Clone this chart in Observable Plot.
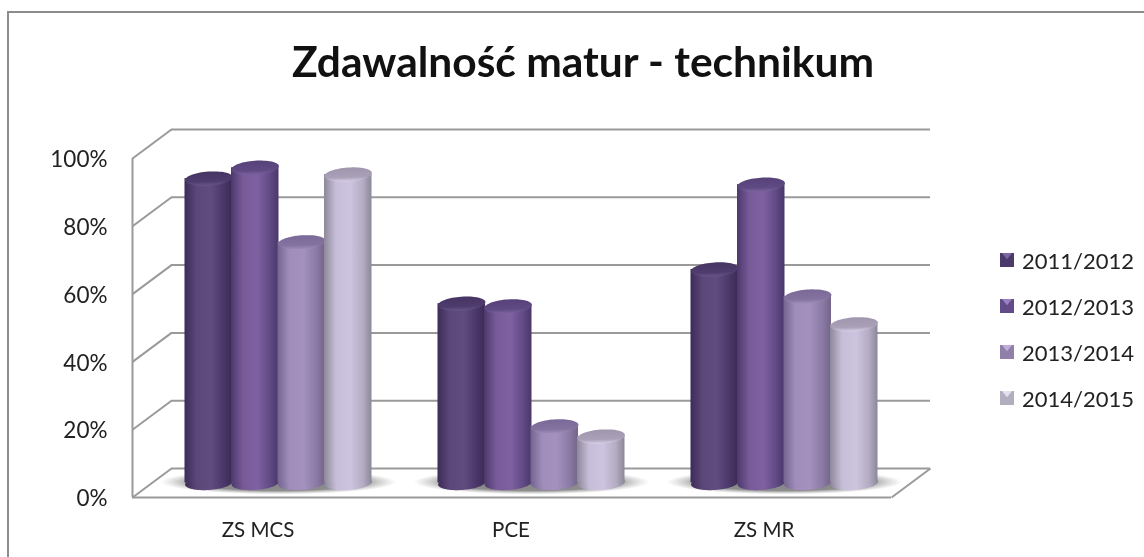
<!DOCTYPE html>
<html lang="pl">
<head>
<meta charset="utf-8">
<script src="https://cdn.jsdelivr.net/npm/d3@7"></script>
<script src="https://cdn.jsdelivr.net/npm/@observablehq/plot@0.6"></script>
<style>
  html, body { margin: 0; padding: 0; background: #fff; }
  #chart { position: relative; width: 1144px; height: 557px; overflow: hidden; font-family: Lato, sans-serif; color: #222; filter: blur(0.4px); }
  #border { position: absolute; left: 7px; top: 11px; right: -4px; bottom: -4px; border: 2px solid #8c8c8c; }
  #title { position: absolute; left: 0; right: 0; top: 37px; margin: 0; padding-left: 22px; text-align: center; font: 700 42.5px/48px Lato, sans-serif; color: #111; }
  #legend { position: absolute; left: 1000px; top: 237px; }
  .item { display: flex; align-items: center; height: 46px; font-size: 22px; white-space: nowrap; }
  .sw { position: relative; width: 14px; height: 14px; margin-right: 8px; }
  .sw i { position: absolute; inset: 0; clip-path: polygon(14% 0, 86% 0, 50% 45%); }
  svg { position: absolute; left: 0; top: 0; }
</style>
</head>
<body>
<div id="chart">
  <div id="border"></div>
  <h1 id="title">Zdawalność matur - technikum</h1>
  <div id="legend"></div>
</div>
<script>
const categories = ["ZS MCS", "PCE", "ZS MR"];
const seasons = ["2011/2012", "2012/2013", "2013/2014", "2014/2015"];
const v2011 = [89.8, 52.9, 63];
const v2012 = [93, 52.1, 88];
const v2013 = [71, 16.7, 55];
const v2014 = [91, 13.7, 46.8];
const seriesValues = [v2011, v2012, v2013, v2014];
const yTicks = [0, 20, 40, 60, 80, 100];

const sideColors = [
  ["#3c2b57", "#5c4779", "#614c80", "#4a3768", "#3b2a55"],
  ["#4c386c", "#775a98", "#7f61a2", "#614a85", "#4b3769"],
  ["#75648f", "#a08dbb", "#a491be", "#8b7aa5", "#736489"],
  ["#8d8899", "#c6bdd9", "#cdc4df", "#b3acc3", "#8b8798"]
];
const topColors = [
  ["#463462", "#4f3c6e", "#6a5689"],
  ["#574178", "#604a84", "#7c64a0"],
  ["#7a6896", "#8472a0", "#a18fbb"],
  ["#9f96ae", "#aaa1b9", "#d8d1e6"]
];
const swatchColors = [
  ["#4d3a6c", "#7e68a0"],
  ["#614b88", "#9b80c4"],
  ["#8f7fa9", "#bfaed8"],
  ["#b3adc0", "#e4dfee"]
];

// The box depth, expressed in the data units of the x and y scales.
const depthX = 39 / 253;
const depthY = 29 / 3.39;
const step = 46.5 / 253;
const half = 23.75 / 253;

function ellipseSymbol(aspect, tiltDeg) {
  const t = tiltDeg * Math.PI / 180;
  return {
    draw(ctx, size) {
      const rx = Math.sqrt(size / Math.PI), ry = rx * aspect;
      for (let i = 0; i <= 64; i++) {
        const a = (i / 64) * 2 * Math.PI;
        const ex = rx * Math.cos(a), ey = ry * Math.sin(a);
        const px = ex * Math.cos(t) - ey * Math.sin(t);
        const py = ex * Math.sin(t) + ey * Math.cos(t);
        if (i === 0) ctx.moveTo(px, py); else ctx.lineTo(px, py);
      }
      ctx.closePath();
    }
  };
}
const capSymbol = ellipseSymbol(0.295, -4);
const shadowSymbol = ellipseSymbol(0.105, 0);

const rows = seasons.map((season, s) =>
  categories.map((category, c) => ({
    season, category,
    value: seriesValues[s][c],
    xc: c + 0.5 + (s - 1.5) * step + depthX / 2
  }))
);

const wall = { stroke: "#9a9a9a", strokeWidth: 2 };
const marks = [
  Plot.ruleY(yTicks, { x1: depthX, x2: 3 + depthX, y: d => d + depthY, ...wall }),
  Plot.link(yTicks, { x1: 0, x2: depthX, y1: d => d, y2: d => d + depthY, ...wall }),
  Plot.ruleX([0], { y1: 0, y2: 100, ...wall }),
  Plot.ruleY([0], { x1: 0, x2: 3, ...wall }),
  Plot.link([0], { x1: 3, x2: 3 + depthX, y1: 0, y2: depthY, ...wall }),
  Plot.dot(categories, {
    x: (d, i) => i + 0.5 + depthX / 2,
    y: depthY / 2 + 0.3,
    r: 118,
    symbol: shadowSymbol,
    fill: "url(#shadow)"
  })
];
rows.forEach((data, s) => {
  marks.push(
    Plot.dot(data, { x: "xc", y: depthY / 2, r: half * 253, symbol: capSymbol, fill: `url(#side${s})` }),
    Plot.rect(data, {
      x1: d => d.xc - half, x2: d => d.xc + half,
      y1: depthY / 2, y2: d => d.value + depthY / 2,
      fill: `url(#side${s})`
    }),
    Plot.dot(data, { x: "xc", y: d => d.value + depthY / 2, r: half * 253, symbol: capSymbol, fill: `url(#top${s})` })
  );
});
marks.push(
  Plot.axisY({ ticks: yTicks, tickSize: 0, tickPadding: 25, dy: 1.5, tickFormat: d => d + "%", label: null, fontSize: 22.5 }),
  Plot.axisX({ ticks: [0.5, 1.5, 2.5], tickSize: 0, tickPadding: 25, dx: -1, tickFormat: d => categories[Math.floor(d)], label: null, fontSize: 20.5 })
);

const plot = Plot.plot({
  width: 1144, height: 557,
  marginLeft: 132, marginRight: 253, marginTop: 158, marginBottom: 60,
  x: { domain: [0, 3], axis: null },
  y: { domain: [0, 100], axis: null },
  style: { background: "transparent", fontFamily: "Lato, sans-serif", color: "#222" },
  marks
});

// Gradients used by the marks
const defs = d3.select(plot).insert("defs", ":first-child");
sideColors.forEach((cols, s) => {
  const g = defs.append("linearGradient").attr("id", `side${s}`).attr("x1", 0).attr("x2", 1).attr("y1", 0).attr("y2", 0);
  [0, 0.25, 0.55, 0.82, 1].forEach((o, i) => g.append("stop").attr("offset", o).attr("stop-color", cols[i]));
});
topColors.forEach((cols, s) => {
  const g = defs.append("linearGradient").attr("id", `top${s}`).attr("x1", 0.4).attr("x2", 0.5).attr("y1", 0).attr("y2", 1);
  [0, 0.7, 1].forEach((o, i) => g.append("stop").attr("offset", o).attr("stop-color", cols[i]));
});
const sh = defs.append("radialGradient").attr("id", "shadow");
[[0, "#858585", 1], [0.7, "#8c8c8c", 1], [1, "#b0b0b0", 0]].forEach(([o, c, a]) =>
  sh.append("stop").attr("offset", o).attr("stop-color", c).attr("stop-opacity", a));

document.getElementById("chart").insertBefore(plot, document.getElementById("title"));

// Legend
const legend = d3.select("#legend");
seasons.forEach((season, s) => {
  const item = legend.append("div").attr("class", "item");
  const sw = item.append("div").attr("class", "sw").style("background", swatchColors[s][0]);
  sw.append("i").style("background", swatchColors[s][1]);
  item.append("span").text(season);
});
</script>
</body>
</html>
